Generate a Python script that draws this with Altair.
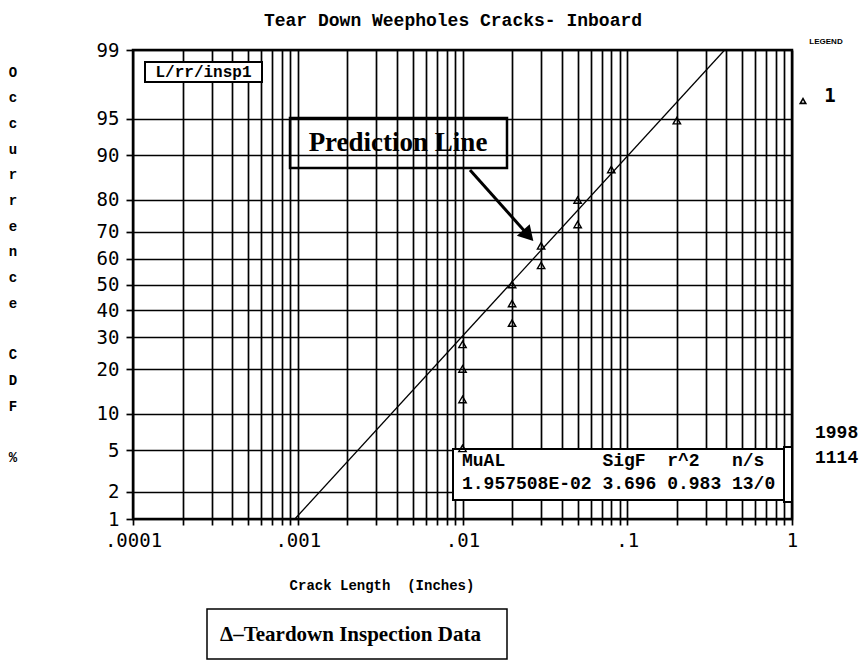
import altair as alt
import pandas as pd
from statistics import NormalDist

# ---------------- data ----------------
crack_len = [0.01, 0.01, 0.01, 0.01, 0.02, 0.02, 0.02, 0.03, 0.03, 0.05, 0.05, 0.08, 0.2]
cdf_pct = [5.2, 12.7, 20.1, 27.6, 35.1, 42.5, 50.0, 57.5, 64.9, 72.4, 79.9, 87.3, 94.8]
line_len = [0.00096, 0.39]
line_pct = [1, 99]
y_tick_pct = [1, 2, 5, 10, 20, 30, 40, 50, 60, 70, 80, 90, 95, 99]
x_major = [0.0001, 0.001, 0.01, 0.1, 1]
x_major_labels = [".0001", ".001", ".01", ".1", "1"]
stats_head = ["MuAL", "SigF", "r^2", "n/s"]
stats_vals = ["1.957508E-02", "3.696", "0.983", "13/0"]
stats_cols = [0, 13, 19, 25]
title_text = "Tear Down Weepholes Cracks- Inboard"
x_title = "Crack Length\u00a0\u00a0(Inches)"
y_title = "Occurrence CDF %"

# ---------------- layout ----------------
W, H = 659, 469
PL, PT = 133, 50
PR, PB = 864 - PL - W, 660 - PT - H

nd = NormalDist()
z_ticks = [nd.inv_cdf(p / 100) for p in y_tick_pct]
x_grid = [float(f"{m}e{e}") for e in range(-4, 0) for m in range(1, 10)] + [1.0]

x_label_expr = " : ".join(
    f"datum.value == {v} ? '{l}'" for v, l in zip(x_major, x_major_labels)
) + " : ''"

xscale = alt.Scale(type="log", domain=[0.0001, 1], nice=False)
yscale = alt.Scale(domain=[z_ticks[0], z_ticks[-1]], nice=False, zero=False)

common_axis = dict(
    title=None, grid=True, gridColor="black", gridWidth=1.7, gridOpacity=1,
    tickColor="black", tickWidth=1.7, labelFont="DejaVu Sans Mono",
    labelFontSize=19, labelColor="black", labelOverlap=False, domain=False,
)
xaxis = alt.Axis(values=x_grid, labelExpr=x_label_expr, tickSize=6,
                 labelPadding=6, labelFlush=False, **common_axis)
yaxis = alt.Axis(values=z_ticks, labelExpr="format(cumulativeNormal(datum.value)*100, '.0f')",
                 tickSize=7, labelPadding=7, **common_axis)

pts_df = pd.DataFrame({"len": crack_len, "pct": cdf_pct})
line_df = pd.DataFrame({"len": line_len, "pct": line_pct})
one = pd.DataFrame({"a": [0]})

line = alt.Chart(line_df).transform_calculate(
    z="quantileNormal(datum.pct / 100)"
).mark_line(color="black", strokeWidth=1.3, clip=True).encode(
    x=alt.X("len:Q", scale=xscale, axis=xaxis),
    y=alt.Y("z:Q", scale=yscale, axis=yaxis),
)

points = alt.Chart(pts_df).transform_calculate(
    z="quantileNormal(datum.pct / 100)"
).mark_point(shape="triangle-up", filled=False, color="black", size=55,
             strokeWidth=1.4, opacity=1).encode(
    x=alt.X("len:Q", scale=xscale, axis=xaxis),
    y=alt.Y("z:Q", scale=yscale, axis=yaxis),
)


def px(v):
    return v - PL


def py(v):
    return v - PT


def txt(s, x, y, size, font, weight="bold", align="center", baseline="middle", **kw):
    return alt.Chart(one).mark_text(
        text=s, font=font, fontSize=size, fontWeight=weight, align=align,
        baseline=baseline, color="black", **kw
    ).encode(x=alt.value(px(x)), y=alt.value(py(y)))


def box(x1, x2, y1, y2, fill="white", sw=2):
    return alt.Chart(one).mark_rect(fill=fill, stroke="black", strokeWidth=sw).encode(
        x=alt.value(px(x1)), x2=alt.value(px(x2)), y=alt.value(py(y1)), y2=alt.value(py(y2))
    )


layers = [line]

# stats box (under the points)
layers.append(box(453, 785, 449, 500))
layers.append(box(784, 792, 447, 502))
for s, c in zip(stats_head, stats_cols):
    layers.append(txt(s, 462 + c * 10.8, 461, 18, "Liberation Mono", align="left"))
for s, c in zip(stats_vals, stats_cols):
    layers.append(txt(s, 462 + c * 10.8, 484, 18, "Liberation Mono", align="left"))

layers.append(points)

# L/rr/insp1 box
layers.append(box(145, 262, 62, 82))
layers.append(txt("L/rr/insp1", 203.5, 72, 16, "Liberation Mono"))

# Prediction Line box & arrow
layers.append(box(290, 507, 118, 168, fill="transparent", sw=2.5))
layers.append(txt("Prediction Line", 398, 143, 27, "Liberation Serif"))
layers.append(alt.Chart(one).mark_rule(color="black", strokeWidth=3).encode(
    x=alt.value(px(470)), x2=alt.value(px(528)), y=alt.value(py(170)), y2=alt.value(py(235))))
layers.append(alt.Chart(one).mark_point(shape="triangle-up", filled=True, color="black",
                                        size=300, angle=138, opacity=1).encode(
    x=alt.value(px(528.3)), y=alt.value(py(235.5))))

# title, legend, side labels
layers.append(txt(title_text, 453, 21, 18, "Liberation Mono"))
layers.append(txt("LEGEND", 826, 42, 8, "Liberation Sans"))
layers.append(alt.Chart(one).mark_point(shape="triangle-up", filled=False, color="black",
                                        size=30, strokeWidth=1.6, opacity=1).encode(
    x=alt.value(px(803)), y=alt.value(py(101))))
layers.append(txt("1", 830, 96, 19, "DejaVu Sans Mono"))
layers.append(txt("1998", 815, 433, 18, "Liberation Mono", align="left"))
layers.append(txt("1114", 815, 458, 18, "Liberation Mono", align="left"))

# vertical y-axis title: one letter per line, a blank line between words
line_h = 25.7
start_line = 0
for word in y_title.split(" "):
    layers.append(txt(list(word), 13, 76.5 + start_line * line_h, 14, "Liberation Mono",
                      baseline="alphabetic", lineHeight=line_h))
    start_line += len(word) + 1
layers.append(txt(x_title, 382, 586, 14, "Liberation Mono"))

# bottom legend box
layers.append(box(207, 507, 609, 659, sw=1.5))
layers.append(txt("\u0394\u2013Teardown Inspection Data", 220, 635, 21, "Liberation Serif", align="left"))

chart = alt.layer(*layers).properties(
    width=W, height=H,
    padding={"left": PL, "top": PT, "right": PR, "bottom": PB},
    autosize=alt.AutoSizeParams(type="none"),
    background="white",
).configure_view(stroke="black", strokeWidth=2.5, fill="white")

chart.save("out.html", embed_options={"renderer": "svg", "actions": False})
